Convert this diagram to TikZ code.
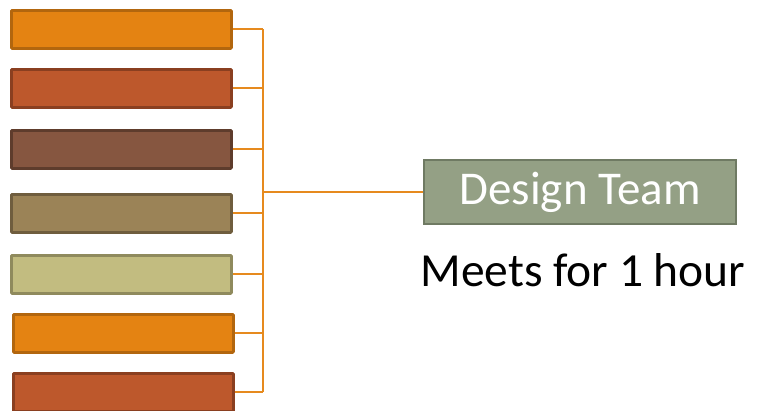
\documentclass[tikz,border=0pt]{standalone}
\usepackage{fontspec}
\setmainfont{Carlito}
\definecolor{cOrange}{HTML}{E48312}
\definecolor{cOrangeD}{HTML}{B2660E}
\definecolor{cRust}{HTML}{BD582C}
\definecolor{cRustD}{HTML}{8A3F20}
\definecolor{cBrown}{HTML}{865640}
\definecolor{cBrownD}{HTML}{5E3C2C}
\definecolor{cTan}{HTML}{9B8357}
\definecolor{cTanD}{HTML}{6F5D3E}
\definecolor{cKhaki}{HTML}{C2BC80}
\definecolor{cKhakiD}{HTML}{8F8A5D}
\definecolor{cSage}{HTML}{94A085}
\definecolor{cSageD}{HTML}{6F7A63}
\definecolor{cLine}{HTML}{E68A1E}
\begin{document}
\begin{tikzpicture}[x=1pt,y=-1pt,
  bar/.style={draw=#1D,fill=#1,line width=2.8pt,minimum width=220pt,minimum height=38pt,inner sep=0pt,anchor=north west,rounded corners=0.8pt},
  conn/.style={draw=cLine,line width=2pt},
  team/.style={draw=cSageD,fill=cSage,line width=2pt,minimum width=312pt,minimum height=64pt,inner sep=0pt,text=white,font=\fontsize{47}{56}\selectfont},
  lbl/.style={font=\fontsize{47.5}{56}\selectfont,inner sep=0pt}]
\useasboundingbox (0,0) rectangle (758,410);
\clip (0,0) rectangle (758,410);
\node[bar=cOrange] (b1) at (10,9) {};
\node[bar=cRust] (b2) at (10,68) {};
\node[bar=cBrown] (b3) at (10,129) {};
\node[bar=cTan] (b4) at (10,193) {};
\node[bar=cKhaki] (b5) at (10,254) {};
\node[bar=cOrange] (b6) at (12,313) {};
\node[bar=cRust] (b7) at (12,372) {};
\coordinate (bus) at (263,0);
\node[team] (dt) at (580,192) {Design Team};
\node[lbl,anchor=base] (meets) at (583,286) {Meets for 1 hour};
\foreach \b in {b1,b2,b3,b4,b5,b6,b7}{
  \draw[conn] (\b.east) -- (\b.east -| bus);
}
\draw[conn] (b1.east -| bus) -- (b7.east -| bus);
\draw[conn] (bus |- dt.west) -- (dt.west);
\end{tikzpicture}
\end{document}
